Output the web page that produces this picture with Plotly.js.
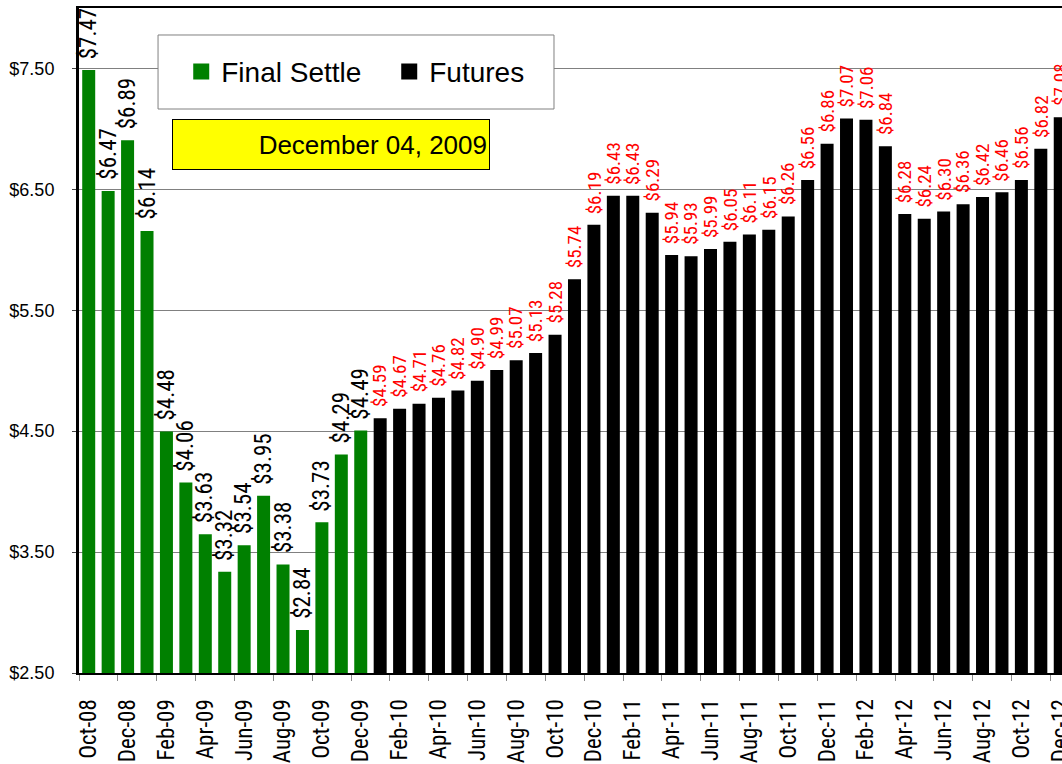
<!DOCTYPE html>
<html>
<head>
<meta charset="utf-8">
<script src="https://cdn.plot.ly/plotly-3.0.1.min.js"></script>
<style>html,body{margin:0;padding:0;background:#fff;overflow:hidden}</style>
</head>
<body>
<div id="chart" style="width:1062px;height:764px"></div>
<script>
// Categories (contract months)
const settleMonths = ['Oct-08','Nov-08','Dec-08','Jan-09','Feb-09','Mar-09','Apr-09','May-09','Jun-09','Jul-09','Aug-09','Sep-09','Oct-09','Nov-09','Dec-09'];
const futuresMonths = ['Jan-10','Feb-10','Mar-10','Apr-10','May-10','Jun-10','Jul-10','Aug-10','Sep-10','Oct-10','Nov-10','Dec-10',
  'Jan-11','Feb-11','Mar-11','Apr-11','May-11','Jun-11','Jul-11','Aug-11','Sep-11','Oct-11','Nov-11','Dec-11',
  'Jan-12','Feb-12','Mar-12','Apr-12','May-12','Jun-12','Jul-12','Aug-12','Sep-12','Oct-12','Nov-12','Dec-12'];
// Series values ($)
const settleValues = [7.47, 6.47, 6.89, 6.14, 4.48, 4.06, 3.63, 3.32, 3.54, 3.95, 3.38, 2.84, 3.73, 4.29, 4.49];
const futuresValues = [4.59, 4.67, 4.71, 4.76, 4.82, 4.90, 4.99, 5.07, 5.13, 5.28, 5.74, 6.19,
  6.43, 6.43, 6.29, 5.94, 5.93, 5.99, 6.05, 6.11, 6.15, 6.26, 6.56, 6.86,
  7.07, 7.06, 6.84, 6.28, 6.24, 6.30, 6.36, 6.42, 6.46, 6.56, 6.82, 7.08];
// Tick labels
const tickLabels = ['Oct-08','Dec-08','Feb-09','Apr-09','Jun-09','Aug-09','Oct-09','Dec-09','Feb-10','Apr-10','Jun-10','Aug-10','Oct-10','Dec-10',
  'Feb-11','Apr-11','Jun-11','Aug-11','Oct-11','Dec-11','Feb-12','Apr-12','Jun-12','Aug-12','Oct-12','Dec-12'];
const yTicks = [2.5, 3.5, 4.5, 5.5, 6.5, 7.5];
const dateText = 'December 04, 2009';

const allMonths = settleMonths.concat(futuresMonths);
const narrow = "'Roboto Condensed', 'Open Sans Condensed', sans-serif";
const arial = "'Liberation Sans', Arial, sans-serif";

const traces = [
  {type:'bar', name:'Final Settle', x: settleMonths, y: settleValues,
   marker:{color:'#008000', line:{width:4, color:'#008000'}}, hoverinfo:'x+y'},
  {type:'bar', name:'Futures', x: futuresMonths, y: futuresValues,
   marker:{color:'#000000', line:{width:4, color:'#000000'}}, hoverinfo:'x+y'}
];

function valueLabels(xs, ys, color, size){
  return xs.map((m,i)=>({x:m, y:ys[i], xref:'x', yref:'y', text:'$'+ys[i].toFixed(2),
    textangle:-90, xanchor:'center', yanchor:'bottom', yshift:11, showarrow:false,
    font:{family:narrow, size:size, color:color}}));
}

const annotations = valueLabels(settleMonths, settleValues, '#000000', 23)
  .concat(valueLabels(futuresMonths, futuresValues, '#FF0000', 19))
  .concat([{xref:'paper', yref:'paper', x:0.2564, y:0.7947, xanchor:'center', yanchor:'middle',
    text:dateText, showarrow:false, bgcolor:'#FFFF00', bordercolor:'#000000', borderwidth:1, borderpad:2,
    width:312, height:45, align:'right', font:{family:arial, size:26, color:'#000'}}]);

const layout = {
  width:1062, height:764,
  margin:{l:79, r:0, t:8, b:91, pad:0},
  paper_bgcolor:'#ffffff', plot_bgcolor:'#ffffff',
  barmode:'overlay', bargap:0.537,
  showlegend:true,
  legend:{orientation:'h', x:0.104, y:0.904, xanchor:'left', yanchor:'middle',
    bgcolor:'rgba(0,0,0,0)', borderwidth:0, font:{family:arial, size:28, color:'#000'},
    entrywidth:163, entrywidthmode:'pixels'},
  xaxis:{type:'category', categoryorder:'array', categoryarray: allMonths,
    range:[-0.5, 50.09], tickmode:'array', tickvals: tickLabels, ticktext: tickLabels,
    tickson:'boundaries', ticks:'outside', ticklen:6, tickcolor:'#888', tickwidth:1,
    tickangle:-90, ticklabelstandoff:15,
    tickfont:{family:narrow, size:23, color:'#000'},
    showgrid:false, showline:true, linecolor:'#000', linewidth:2, mirror:true, zeroline:false},
  yaxis:{range:[2.5, 8.0], tickmode:'array', tickvals:yTicks, tickformat:'$.2f',
    ticks:'outside', ticklen:4, tickcolor:'#444', ticklabelstandoff:14,
    tickfont:{family:arial, size:18, color:'#000'},
    showgrid:true, gridcolor:'#808080', gridwidth:1,
    showline:true, linecolor:'#000', linewidth:3, zeroline:false},
  shapes:[{type:'rect', xref:'paper', yref:'paper', x0:0.0804, x1:0.4832, y0:0.8481, y1:0.9594,
    fillcolor:'#ffffff', line:{color:'#808080', width:1}, layer:'above'}],
  annotations: annotations
};

Plotly.newPlot('chart', traces, layout, {displayModeBar:false, staticPlot:true});
</script>
</body>
</html>
